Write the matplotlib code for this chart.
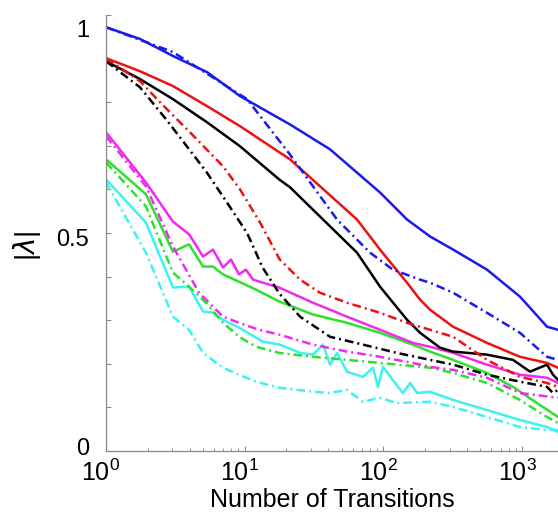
import numpy as np
import matplotlib
matplotlib.use('Agg')
import matplotlib.pyplot as plt
import matplotlib.transforms as mtransforms

plt.rcParams['font.family'] = 'Liberation Sans'
plt.rcParams['mathtext.fontset'] = 'custom'
plt.rcParams['mathtext.rm'] = 'Liberation Sans'

# values (x = number of transitions, y = |lambda|)
blue_solid_x = [1, 1.76, 3.04, 5.35, 9.25, 21.2, 41.2, 94.5, 148, 217, 318, 558, 966, 1513, 1815]
blue_solid_y = [0.972, 0.945, 0.906, 0.869, 0.814, 0.749, 0.692, 0.593, 0.531, 0.492, 0.462, 0.416, 0.354, 0.285, 0.278]

blue_dash_x = [1, 3.04, 10.4, 21.2, 46.3, 80, 117, 184, 217, 318, 558, 966, 1513, 1815]
blue_dash_y = [0.972, 0.915, 0.807, 0.680, 0.531, 0.455, 0.416, 0.393, 0.386, 0.363, 0.317, 0.271, 0.216, 0.209]

red_solid_x = [1, 1.76, 3.04, 5.35, 9.25, 21.2, 64.5, 94.5, 148, 184, 217, 318, 558, 966, 1513, 1815]
red_solid_y = [0.901, 0.871, 0.837, 0.791, 0.745, 0.669, 0.531, 0.462, 0.386, 0.347, 0.324, 0.285, 0.248, 0.216, 0.202, 0.191]

red_dash_x = [1, 1.76, 2.45, 4.03, 6.98, 9.25, 12.9, 17.9, 25.1, 34.9, 54.7, 94.5, 148, 217, 318, 558, 966, 1513, 1815]
red_dash_y = [0.901, 0.848, 0.800, 0.731, 0.653, 0.600, 0.524, 0.439, 0.393, 0.363, 0.340, 0.317, 0.294, 0.278, 0.262, 0.209, 0.170, 0.156, 0.147]

black_solid_x = [1, 1.76, 3.04, 5.35, 9.25, 17.7, 21.2, 36.7, 64.5, 94.5, 148, 184, 256, 318, 558, 860, 1140, 1513, 1670, 1815]
black_solid_y = [0.894, 0.853, 0.807, 0.754, 0.699, 0.623, 0.605, 0.531, 0.455, 0.377, 0.301, 0.271, 0.237, 0.228, 0.221, 0.209, 0.182, 0.198, 0.175, 0.163]

black_dash_x = [1, 1.76, 2.71, 5.3, 7.45, 10.4, 13.5, 17.9, 25.1, 41.2, 71.3, 125, 217, 318, 558, 966, 1513, 1670, 1815]
black_dash_y = [0.894, 0.834, 0.761, 0.640, 0.570, 0.500, 0.420, 0.360, 0.308, 0.262, 0.244, 0.225, 0.209, 0.198, 0.175, 0.159, 0.147, 0.133, 0.140]

magenta_solid_x = [1, 1.94, 3.04, 3.97, 5.01, 5.91, 6.98, 7.96, 9.10, 10.2, 11.5, 13.5, 17.7, 31.1, 54.7, 94.5, 163, 217, 318, 558, 966, 1513, 1815]
magenta_solid_y = [0.731, 0.616, 0.526, 0.497, 0.446, 0.462, 0.421, 0.439, 0.405, 0.416, 0.393, 0.386, 0.375, 0.340, 0.308, 0.278, 0.248, 0.239, 0.225, 0.198, 0.175, 0.168, 0.156]

magenta_dash_x = [1, 1.94, 3.04, 4.69, 6.98, 9.10, 12.7, 17.7, 31.1, 54.7, 94.5, 163, 217, 318, 558, 966, 1815]
magenta_dash_y = [0.722, 0.607, 0.469, 0.363, 0.308, 0.294, 0.278, 0.267, 0.244, 0.228, 0.216, 0.202, 0.193, 0.186, 0.168, 0.133, 0.122]

green_solid_x = [1, 1.94, 3.04, 3.97, 5.01, 5.91, 6.98, 12.1, 17.7, 31.1, 54.7, 94.5, 163, 217, 318, 558, 860, 1280, 1815]
green_solid_y = [0.669, 0.589, 0.457, 0.474, 0.423, 0.423, 0.405, 0.370, 0.343, 0.313, 0.294, 0.271, 0.244, 0.228, 0.209, 0.179, 0.147, 0.110, 0.078]

green_dash_x = [1, 1.94, 3.04, 3.97, 5.26, 6.98, 9.10, 12.1, 17.7, 31.1, 54.7, 94.5, 217, 318, 558, 966, 1513, 1815]
green_dash_y = [0.662, 0.561, 0.409, 0.377, 0.340, 0.294, 0.262, 0.239, 0.225, 0.216, 0.209, 0.202, 0.191, 0.179, 0.156, 0.117, 0.078, 0.064]

cyan_solid_x = [1, 1.94, 3.04, 3.97, 5.01, 5.91, 6.98, 9.10, 13.5, 17.9, 25.1, 31.1, 36.7, 41.2, 46.3, 54.7, 71.3, 84.1, 91.4, 99.3, 117, 138, 156, 175, 217, 318, 558, 966, 1513, 1815]
cyan_solid_y = [0.623, 0.524, 0.375, 0.377, 0.320, 0.317, 0.301, 0.283, 0.251, 0.244, 0.225, 0.221, 0.244, 0.198, 0.225, 0.182, 0.170, 0.191, 0.147, 0.193, 0.163, 0.133, 0.156, 0.133, 0.136, 0.117, 0.094, 0.071, 0.055, 0.044]

cyan_dash_x = [1, 1.94, 3.04, 3.97, 5.01, 6.98, 9.10, 12.1, 17.7, 31.1, 41.2, 54.7, 71.3, 94.5, 125, 217, 318, 558, 966, 1513, 1815]
cyan_dash_y = [0.616, 0.455, 0.308, 0.278, 0.225, 0.191, 0.175, 0.159, 0.145, 0.136, 0.133, 0.140, 0.113, 0.122, 0.110, 0.113, 0.101, 0.078, 0.055, 0.048, 0.048]

dashdot = (0, (3.5, 1.6, 0.8, 1.6))
lw = 1.8

fig = plt.figure(figsize=(5.58, 5.16), dpi=100)
ax = fig.add_axes([106 / 558, 1 - 451 / 516, 1 - 106 / 558, (451 - 15) / 516])

ax.plot(cyan_dash_x, cyan_dash_y, color='#3cf2f2', lw=lw, ls=dashdot)
ax.plot(cyan_solid_x, cyan_solid_y, color='#3cf2f2', lw=lw)
ax.plot(green_dash_x, green_dash_y, color='#2ee02e', lw=lw, ls=dashdot)
ax.plot(green_solid_x, green_solid_y, color='#2ee02e', lw=lw)
ax.plot(magenta_dash_x, magenta_dash_y, color='#f02af0', lw=lw, ls=dashdot)
ax.plot(magenta_solid_x, magenta_solid_y, color='#f02af0', lw=lw)
ax.plot(black_dash_x, black_dash_y, color='black', lw=lw, ls=dashdot)
ax.plot(black_solid_x, black_solid_y, color='black', lw=lw)
ax.plot(red_dash_x, red_dash_y, color='#ee1111', lw=lw, ls=dashdot)
ax.plot(red_solid_x, red_solid_y, color='#ee1111', lw=lw)
ax.plot(blue_dash_x, blue_dash_y, color='#1a1aee', lw=lw, ls=dashdot)
ax.plot(blue_solid_x, blue_solid_y, color='#1a1aee', lw=lw)

ax.set_xscale('log')
ax.set_xlim(1, 1815)
ax.set_ylim(0, 1)

for s in ['top', 'right']:
    ax.spines[s].set_visible(False)
for s in ['left', 'bottom']:
    ax.spines[s].set_color('#888888')
    ax.spines[s].set_linewidth(0.9)

ax.set_yticks(np.arange(0, 1.01, 0.1))
ax.set_yticklabels([])
ax.set_xticks([1, 10, 100, 1000])
ax.tick_params(axis='both', which='both', direction='in', color='#888888')
ax.tick_params(axis='y', length=3.5)
ax.tick_params(axis='x', which='major', length=3.5, labelsize=18, pad=6)
ax.tick_params(axis='x', which='minor', length=2.5)

# shift x tick labels a little left like the reference
off = mtransforms.ScaledTranslation(-5 / 100, 0, fig.dpi_scale_trans)
for lbl in ax.get_xticklabels():
    lbl.set_transform(lbl.get_transform() + off)

# y labels sit where the reference has them
ytrans = mtransforms.blended_transform_factory(ax.transAxes, ax.transData)
for val, txt in [(0.963, '1'), (0.485, '0.5'), (0.005, '0')]:
    ax.text(-0.037, val, txt, transform=ytrans, ha='right', va='center', fontsize=17)

ax.set_xlabel('Number of Transitions', fontsize=18)
ax.xaxis.set_label_coords(0.5, -0.085)
ax.set_ylabel(r'$|\lambda|$', fontsize=20)
ax.yaxis.set_label_coords(-0.14, 0.47)

fig.savefig('out.png', dpi=100)
